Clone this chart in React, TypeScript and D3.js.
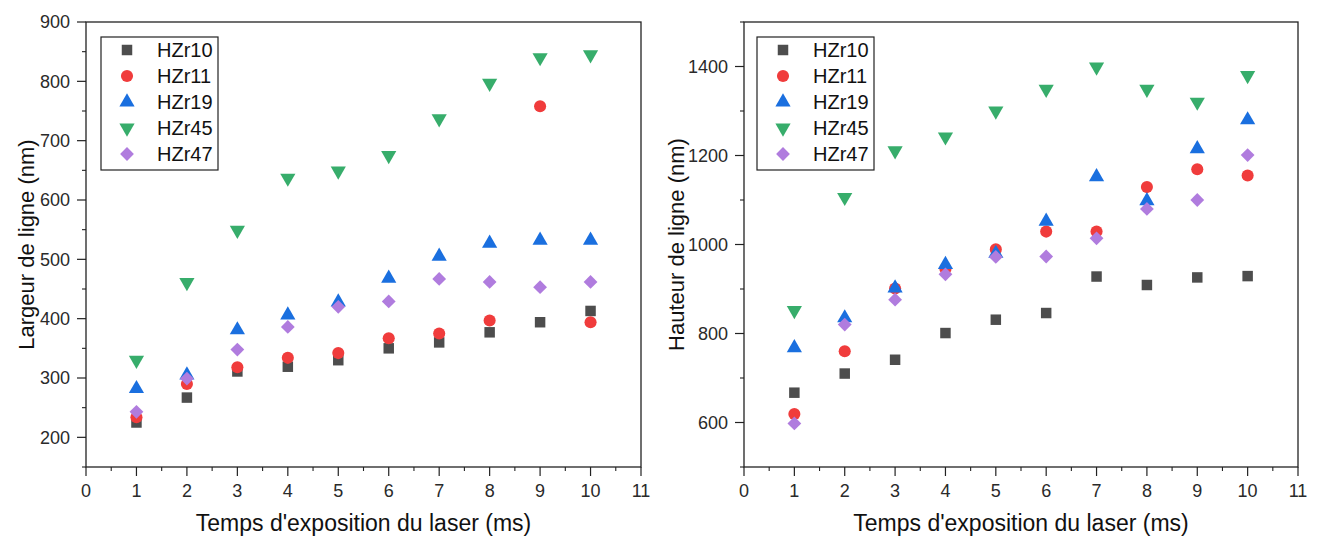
import React from "react";
import * as d3 from "d3";

const times = [1, 2, 3, 4, 5, 6, 7, 8, 9, 10];
const seriesNames = ["HZr10", "HZr11", "HZr19", "HZr45", "HZr47"];

// Largeur de ligne (nm)
const widthHZr10 = [225, 267, 311, 319, 330, 350, 360, 377, 394, 413];
const widthHZr11 = [234, 290, 318, 334, 342, 367, 375, 397, 758, 394];
const widthHZr19 = [282, 305, 381, 406, 428, 468, 505, 527, 532, 532];
const widthHZr45 = [330, 461, 549, 637, 649, 675, 737, 797, 840, 845];
const widthHZr47 = [243, 299, 348, 386, 420, 429, 467, 462, 453, 462];

// Hauteur de ligne (nm)
const heightHZr10 = [667, 710, 741, 801, 831, 846, 928, 909, 926, 929];
const heightHZr11 = [619, 760, 901, 945, 989, 1029, 1029, 1129, 1169, 1155];
const heightHZr19 = [768, 835, 902, 955, 980, 1052, 1152, 1098, 1215, 1280];
const heightHZr45 = [852, 1106, 1211, 1242, 1300, 1349, 1399, 1349, 1320, 1380];
const heightHZr47 = [598, 820, 876, 933, 972, 973, 1014, 1080, 1100, 1201];

const xTicks = [0, 1, 2, 3, 4, 5, 6, 7, 8, 9, 10, 11];
const leftYTicks = [200, 300, 400, 500, 600, 700, 800, 900];
const rightYTicks = [600, 800, 1000, 1200, 1400];

const colors = ["#4d4d4d", "#f03c3c", "#1a6fdf", "#37ad6b", "#b07cde"];
const FONT = "Arial, 'Liberation Sans', Helvetica, sans-serif";

function markerPath(i: number): { d: string; rot: number } {
  const gen = d3.symbol();
  if (i === 0) return { d: gen.type(d3.symbolSquare).size(110)() as string, rot: 0 };
  if (i === 1) return { d: gen.type(d3.symbolCircle).size(115)() as string, rot: 0 };
  if (i === 2) return { d: gen.type(d3.symbolTriangle).size(100)() as string, rot: 0 };
  if (i === 3) return { d: gen.type(d3.symbolTriangle).size(100)() as string, rot: 180 };
  return { d: gen.type(d3.symbolSquare).size(95)() as string, rot: 45 };
}

function Marker({ i, x, y }: { i: number; x: number; y: number }) {
  const m = markerPath(i);
  return (
    <path
      d={m.d}
      transform={`translate(${x},${y}) rotate(${m.rot})`}
      fill={colors[i]}
    />
  );
}

type PanelProps = {
  x0: number;
  x1: number;
  y0: number;
  y1: number;
  yDomain: [number, number];
  yTicks: number[];
  yMinorStep: number;
  yTitle: string;
  data: number[][];
  legendX: number;
  legendW: number;
  titleX: number;
};

function Panel(p: PanelProps) {
  const x = d3.scaleLinear().domain([0, 11]).range([p.x0, p.x1]);
  const y = d3.scaleLinear().domain(p.yDomain).range([p.y1, p.y0]);
  const xMinor = d3.range(0.5, 11, 1);
  const yMinor = d3
    .range(p.yDomain[0], p.yDomain[1] + 1, p.yMinorStep)
    .filter((v) => !p.yTicks.includes(v));
  const legendTop = 37;
  const rowH = 26;
  return (
    <g>
      {p.data.map((vals, si) => (
        <g key={si}>
          {vals.map((v, k) => (
            <Marker key={k} i={si} x={x(times[k])} y={y(v)} />
          ))}
        </g>
      ))}
      <rect
        x={p.x0}
        y={p.y0}
        width={p.x1 - p.x0}
        height={p.y1 - p.y0}
        fill="none"
        stroke="#222"
        strokeWidth={1.3}
      />
      {xTicks.map((t) => (
        <g key={"xt" + t}>
          <line x1={x(t)} x2={x(t)} y1={p.y1} y2={p.y1 + 9} stroke="#222" strokeWidth={1.2} />
          <text
            x={x(t)}
            y={p.y1 + 30}
            textAnchor="middle"
            fontSize={18}
            fontFamily={FONT}
            fill="#2a2a2a"
          >
            {t}
          </text>
        </g>
      ))}
      {xMinor.map((t) => (
        <line key={"xm" + t} x1={x(t)} x2={x(t)} y1={p.y1} y2={p.y1 + 4} stroke="#222" strokeWidth={1.1} />
      ))}
      {p.yTicks.map((t) => (
        <g key={"yt" + t}>
          <line x1={p.x0 - 9} x2={p.x0} y1={y(t)} y2={y(t)} stroke="#222" strokeWidth={1.2} />
          <text
            x={p.x0 - 16}
            y={y(t)}
            dy="0.35em"
            textAnchor="end"
            fontSize={18}
            fontFamily={FONT}
            fill="#2a2a2a"
          >
            {t}
          </text>
        </g>
      ))}
      {yMinor.map((t) => (
        <line key={"ym" + t} x1={p.x0 - 4} x2={p.x0} y1={y(t)} y2={y(t)} stroke="#222" strokeWidth={1.1} />
      ))}
      <text
        x={(p.x0 + p.x1) / 2}
        y={531}
        textAnchor="middle"
        fontSize={23}
        fontFamily={FONT}
        fill="#111"
      >
        Temps d'exposition du laser (ms)
      </text>
      <text
        transform={`translate(${p.titleX},${(p.y0 + p.y1) / 2}) rotate(-90)`}
        textAnchor="middle"
        fontSize={22}
        fontFamily={FONT}
        fill="#111"
      >
        {p.yTitle}
      </text>
      <rect
        x={p.legendX}
        y={legendTop}
        width={p.legendW}
        height={133}
        fill="white"
        stroke="#222"
        strokeWidth={1.2}
      />
      {seriesNames.map((n, i) => (
        <g key={n}>
          <Marker i={i} x={p.legendX + 26} y={legendTop + 13 + i * rowH} />
          <text
            x={p.legendX + 56}
            y={legendTop + 13 + i * rowH}
            dy="0.36em"
            fontSize={20}
            fontFamily={FONT}
            fill="#111"
          >
            {n}
          </text>
        </g>
      ))}
    </g>
  );
}

export default function App() {
  return (
    <svg
      width={1322}
      height={538}
      style={{ position: "absolute", left: 0, top: 0, background: "white" }}
    >
      <rect width={1322} height={538} fill="white" />
      <Panel
        x0={86}
        x1={641}
        y0={22}
        y1={467}
        yDomain={[150, 900]}
        yTicks={leftYTicks}
        yMinorStep={50}
        yTitle="Largeur de ligne (nm)"
        data={[widthHZr10, widthHZr11, widthHZr19, widthHZr45, widthHZr47]}
        legendX={101}
        legendW={117}
        titleX={34}
      />
      <Panel
        x0={744}
        x1={1298}
        y0={22}
        y1={467}
        yDomain={[500, 1500]}
        yTicks={rightYTicks}
        yMinorStep={100}
        yTitle="Hauteur de ligne (nm)"
        data={[heightHZr10, heightHZr11, heightHZr19, heightHZr45, heightHZr47]}
        legendX={757}
        legendW={117}
        titleX={684}
      />
    </svg>
  );
}
